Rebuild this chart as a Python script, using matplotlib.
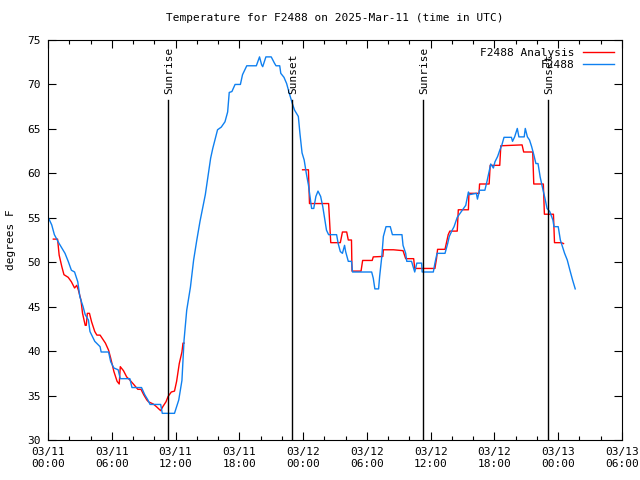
import matplotlib
matplotlib.use("Agg")
import matplotlib.pyplot as plt

# hours since 2025-03-11 00:00 UTC
obs_hours = [0.0, 0.35, 0.6, 1.0, 1.4, 1.6, 1.9, 2.2, 2.5, 2.8, 3.0, 3.3, 3.5, 3.8, 3.95,
             4.4, 4.9, 5.0, 5.7, 5.9, 6.2, 6.6, 6.8, 7.7, 7.9, 8.8, 9.1, 9.4, 9.6, 10.6,
             10.75, 11.9, 12.3, 12.6, 12.8, 13.05, 13.4, 13.7, 14.0, 14.3, 14.8, 15.3, 15.5,
             15.7, 15.95, 16.3, 16.65, 16.9, 17.05, 17.3, 17.6, 18.1, 18.3, 18.7, 19.6, 19.9,
             20.1, 20.2, 20.5, 21.0, 21.3, 21.45, 21.8, 21.9, 22.2, 22.45, 22.7, 23.0, 23.2,
             23.55, 23.7, 23.9, 24.1, 24.3, 24.5, 24.65, 24.8, 25.0, 25.2, 25.4, 25.65, 25.85,
             26.05, 26.2, 26.4, 27.15, 27.3, 27.5, 27.7, 27.9, 28.0, 28.25, 28.55, 28.65, 30.45,
             30.6, 30.75, 31.1, 31.2, 31.4, 31.55, 31.8, 32.2, 32.4, 33.3, 33.4, 33.65, 33.75,
             34.2, 34.4, 34.5, 34.7, 35.15, 35.2, 36.25, 36.4, 36.6, 37.35, 37.6, 37.75, 38.0,
             38.2, 38.5, 39.1, 39.3, 39.55, 39.65, 40.3, 40.4, 40.6, 41.1, 41.3, 41.5, 41.65,
             41.9, 42.05, 42.3, 42.5, 42.7, 42.9, 43.6, 43.7, 43.9, 44.15, 44.3, 44.8, 44.9,
             45.1, 45.3, 45.5, 45.7, 45.9, 46.1, 46.3, 46.5, 46.75, 46.95, 47.2, 47.5, 47.6,
             48.0, 48.2, 48.6, 48.85, 49.1, 49.35, 49.6]
obs_temps = [55.1, 54.2, 53.1, 52.2, 51.4, 51.0, 50.1, 49.1, 48.9, 47.8, 46.1, 45.0, 44.1, 43.5, 42.2,
             41.1, 40.5, 39.9, 39.9, 38.8, 38.1, 37.9, 36.9, 36.9, 35.9, 35.9, 35.1, 34.5, 34.0, 34.0,
             33.0, 33.0, 34.5, 36.7, 41.25, 44.6, 47.2, 50.25, 52.5, 54.6, 57.6, 61.7, 62.8,
             63.75, 64.9, 65.2, 65.8, 66.9, 69.1, 69.2, 70.0, 70.0, 71.1, 72.1, 72.1, 73.1,
             72.2, 72.0, 73.1, 73.1, 72.4, 72.1, 72.1, 71.25, 70.8, 70.1, 69.0, 67.8, 67.1,
             66.4, 64.5, 62.3, 61.5, 60.0, 58.7, 57.4, 56.05, 56.05, 57.4, 58.0, 57.4, 56.25,
             54.75, 53.6, 53.1, 53.1, 52.1, 51.2, 51.0, 51.9, 51.2, 50.1, 50.1, 48.9, 48.9,
             48.2, 47.0, 47.0, 48.4, 50.6, 52.9, 54.0, 54.0, 53.1, 53.1, 51.9, 51.0, 50.1,
             50.1, 49.3, 48.9, 49.9, 49.9, 48.9, 48.9, 49.9, 51.0, 51.0, 52.1, 52.9, 53.55,
             54.0, 55.05, 56.05, 56.4, 57.9, 57.6, 57.75, 57.1, 58.1, 58.1, 59.1, 60.2, 61.05,
             60.6, 61.3, 61.9, 62.6, 63.2, 64.05, 64.05, 63.6, 64.1, 65.05, 64.1, 64.1, 65.05,
             64.1, 63.75, 63.0, 62.1, 61.1, 61.1, 59.6, 58.5, 57.2, 56.05, 55.7, 54.75, 54.0,
             54.0, 52.5, 51.0, 50.25, 49.1, 48.0, 47.0]

ana1_hours = [0.5, 0.9, 1.05, 1.3, 1.5, 1.9, 2.2, 2.5, 2.7, 2.85, 3.1, 3.25, 3.5, 3.6, 3.7, 3.9,
              4.1, 4.4, 4.6, 4.9, 5.4, 5.7, 5.9, 6.2, 6.5, 6.7, 6.8, 7.1, 7.4, 7.7, 8.1, 8.45,
              8.75, 9.0, 9.3, 9.45, 9.9, 10.2, 10.6, 10.8, 11.1, 11.3, 11.6, 11.9, 12.1, 12.35,
              12.6, 12.7, 12.8]
ana1_temps = [52.6, 52.6, 50.8, 49.5, 48.6, 48.3, 47.8, 47.1, 47.4, 46.9, 45.75, 44.25, 42.9, 42.9, 44.25, 44.25,
              43.3, 42.2, 41.8, 41.8, 40.9, 40.1, 39.2, 37.7, 36.6, 36.3, 38.25, 37.8, 37.1, 36.75, 36.2, 35.7,
              35.7, 35.1, 34.5, 34.3, 34.05, 33.75, 33.3, 33.75, 34.3, 34.9, 35.4, 35.5, 36.6, 38.6,
              39.9, 40.9, 40.9]

ana2_hours = [23.95, 24.5, 24.6, 26.4, 26.5, 26.6, 27.5, 27.7, 28.1, 28.25, 28.55, 28.6, 29.45,
              29.6, 30.5, 30.6, 31.5, 31.55, 32.5, 33.4, 33.65, 34.4, 34.5, 36.4, 36.55, 36.65,
              37.35, 37.65, 37.8, 38.5, 38.6, 39.55, 39.6, 40.55, 40.6, 41.5, 41.6, 42.5, 42.6,
              44.6, 44.75, 45.6, 45.7, 46.6, 46.7, 47.55, 47.65, 48.3, 48.5]
ana2_temps = [60.4, 60.4, 56.6, 56.6, 54.4, 52.2, 52.2, 53.4, 53.4, 52.5, 52.5, 49.0, 49.0,
              50.2, 50.2, 50.6, 50.65, 51.4, 51.4, 51.3, 50.4, 50.4, 49.3, 49.3, 50.4, 51.45,
              51.45, 53.1, 53.5, 53.5, 55.9, 55.9, 57.75, 57.75, 58.8, 58.8, 60.9, 60.9, 63.1,
              63.2, 62.4, 62.4, 58.8, 58.8, 55.4, 55.4, 52.2, 52.2, 52.1]

sun_hours = [11.29, 22.97, 35.28, 47.04]
sun_labels = ["Sunrise", "Sunset", "Sunrise", "Sunset"]

tick_hours = [0, 6, 12, 18, 24, 30, 36, 42, 48, 54]
tick_labels = ["03/11\n00:00", "03/11\n06:00", "03/11\n12:00", "03/11\n18:00",
               "03/12\n00:00", "03/12\n06:00", "03/12\n12:00", "03/12\n18:00",
               "03/13\n00:00", "03/13\n06:00"]

plt.rcParams['font.family'] = ['DejaVu Sans Mono']
plt.rcParams['font.size'] = 8

fig = plt.figure(figsize=(6.4, 4.8), dpi=100)
ax = fig.add_axes([48 / 640, 40 / 480, 574 / 640, 400 / 480])

red = '#ff0000'
blue = '#0f80f0'
ax.plot(ana1_hours, ana1_temps, color=red, lw=1.0, label='F2488 Analysis')
ax.plot(ana2_hours, ana2_temps, color=red, lw=1.0)
ax.plot(obs_hours, obs_temps, color=blue, lw=1.0, label='F2488')

for h, lab in zip(sun_hours, sun_labels):
    ax.plot([h, h], [30, 68.3], color='black', lw=1.0)
    ax.text(h + 0.1, 68.9, lab, rotation=90, ha='center', va='bottom', fontsize=8)

ax.set_xlim(0, 54)
ax.set_ylim(30, 75)
ax.set_xticks(tick_hours)
ax.set_xticklabels(tick_labels)
ax.set_xticks(range(0, 55, 2), minor=True)
ax.set_yticks(range(30, 76, 5))
ax.tick_params(which='both', direction='in', top=True, right=True, pad=5)
ax.tick_params(which='major', length=6, width=0.8)
ax.tick_params(which='minor', length=3, width=0.8)

ax.set_ylabel('degrees F', labelpad=8)
ax.set_title('Temperature for F2488 on 2025-Mar-11 (time in UTC)', fontsize=8, pad=14)

leg = ax.legend(loc='upper right', frameon=False, markerfirst=False, handlelength=2.8,
                borderaxespad=0.3, labelspacing=0.2, handletextpad=0.8)
for t in leg.get_texts():
    t.set_ha('right')

fig.savefig('out.png', dpi=100)
